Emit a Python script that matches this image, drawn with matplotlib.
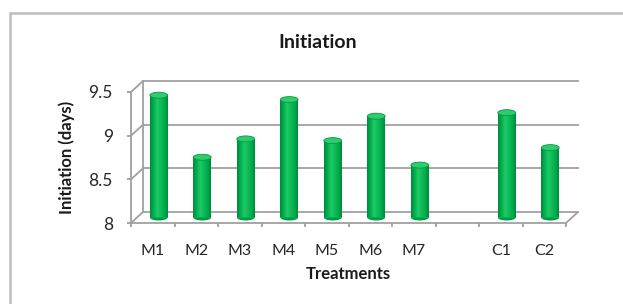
import numpy as np
import matplotlib
matplotlib.use("Agg")
import matplotlib.pyplot as plt
from matplotlib.transforms import offset_copy
from matplotlib.patches import Ellipse, Rectangle
from matplotlib.colors import LinearSegmentedColormap

# ---- data ----
categories = ["M1", "M2", "M3", "M4", "M5", "M6", "M7", "", "C1", "C2"]
values = [9.40, 8.69, 8.90, 9.35, 8.88, 9.16, 8.60, np.nan, 9.20, 8.80]
y_ticks = [8, 8.5, 9, 9.5]
y_tick_labels = ["8", "8.5", "9", "9.5"]
title = "Initiation"
x_label = "Treatments"
y_label = "Initiation (days)"

FONT = ["Lato", "DejaVu Sans"]
W, H, DPI = 623, 304, 100
fig = plt.figure(figsize=(W / DPI, H / DPI), dpi=DPI)
fig.patch.set_facecolor("white")

# front plane of the plot area (pixels)
x_left, x_right, y_top, y_bot = 131, 566, 92, 223
ax = fig.add_axes([x_left / W, 1 - y_bot / H, (x_right - x_left) / W, (y_bot - y_top) / H])
n = len(categories)
ax.set_xlim(-0.5, n - 0.5)
ax.set_ylim(8, 9.5)
ax.patch.set_alpha(0)

depth_x, depth_y = 12, 11  # px offset of the back wall
back = offset_copy(ax.transData, fig, x=depth_x, y=depth_y, units="dots")
mid = offset_copy(ax.transData, fig, x=depth_x / 2, y=depth_y / 2, units="dots")
dx = n / (x_right - x_left)
dy = 1.5 / (y_bot - y_top)

grid_c = "#a0a0a0"
lw = 1.3
for yv in y_ticks:
    ax.plot([-0.5, n - 0.5], [yv, yv], color=grid_c, lw=lw, transform=back, clip_on=False, zorder=1)
    ax.plot([-0.5, -0.5 + depth_x * dx], [yv, yv + depth_y * dy], color=grid_c, lw=lw, clip_on=False, zorder=1)
ax.plot([-0.5, -0.5], [8, 9.5], color=grid_c, lw=lw, transform=back, clip_on=False, zorder=1)
ax.plot([n - 0.5, n - 0.5 + depth_x * dx], [8, 8 + depth_y * dy], color=grid_c, lw=lw, clip_on=False, zorder=1)

for s in ["top", "right"]:
    ax.spines[s].set_visible(False)
for s in ["left", "bottom"]:
    ax.spines[s].set_color(grid_c)
    ax.spines[s].set_linewidth(lw)

# bars (cylinders)
xs = np.arange(n)
bw = 0.41
cmap = LinearSegmentedColormap.from_list(
    "cyl", ["#008a3a", "#00b050", "#22c866", "#0cbd58", "#00ac4d", "#008a3a"])
grad = np.linspace(0, 1, 64).reshape(1, -1)
vals = np.array(values, dtype=float)
mask = ~np.isnan(vals)
bars = ax.bar(xs[mask], vals[mask] - 8, bottom=8, width=bw, color="#00b050",
              edgecolor="none", transform=mid, zorder=3, clip_on=False)
ell_h = 6 * dy
for rect, xv, v in zip(bars, xs[mask], vals[mask]):
    im = ax.imshow(grad, cmap=cmap, extent=(xv - bw / 2, xv + bw / 2, 8, v),
                   aspect="auto", transform=mid, zorder=3, interpolation="bilinear")
    im.set_clip_path(rect)
    ax.add_patch(Ellipse((xv, 8), bw, ell_h, facecolor="#009a44", edgecolor="none",
                         transform=mid, zorder=2.9, clip_on=False))
    ax.add_patch(Ellipse((xv, v), bw, ell_h, facecolor="#2fcc6c", edgecolor="#009a44",
                         lw=0.6, transform=mid, zorder=4, clip_on=False))
ax.set_xlim(-0.5, n - 0.5)
ax.set_ylim(8, 9.5)

ax.set_yticks(y_ticks)
ax.set_yticklabels(y_tick_labels)
ax.tick_params(axis="y", direction="out", length=3, width=lw, color=grid_c, pad=10,
               labelsize=12.5, labelcolor="#262626")
ax.set_xticks(xs)
ax.set_xticklabels(categories)
ax.set_xticks(np.arange(n + 1) - 0.5, minor=True)
ax.tick_params(axis="x", which="major", length=0, pad=15, labelsize=11.5, labelcolor="#262626")
ax.tick_params(axis="x", which="minor", direction="out", length=3, width=lw, color=grid_c)
for lab in ax.get_xticklabels() + ax.get_yticklabels():
    lab.set_family(FONT)

fig.text(318 / W, 1 - 42 / H, title, ha="center", va="center", fontsize=14,
         fontweight="bold", family=FONT, color="#1a1a1a")
fig.text(348 / W, 1 - 274 / H, x_label, ha="center", va="center", fontsize=12,
         fontweight="bold", family=FONT, color="#1a1a1a")
fig.text(67 / W, 1 - 157 / H, y_label, ha="center", va="center", rotation=90,
         fontsize=12, fontweight="bold", family=FONT, color="#1a1a1a")

fig.patches.append(Rectangle((10 / W, -0.2), 1.5, 1 - 13 / H + 0.2, transform=fig.transFigure,
                             fill=False, edgecolor="#bdbdbd", lw=1.8))

fig.savefig("out.png", dpi=DPI)
